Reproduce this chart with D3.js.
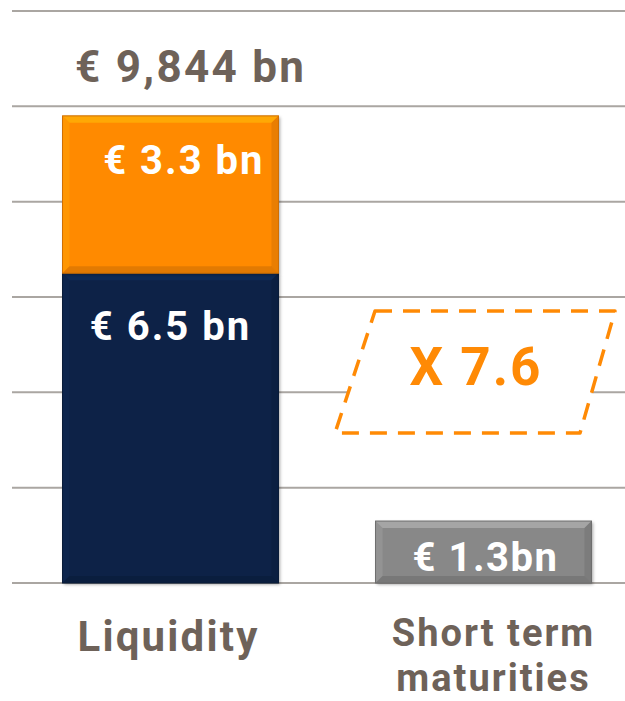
<!DOCTYPE html>
<html>
<head>
<meta charset="utf-8">
<script src="https://cdn.jsdelivr.net/npm/d3@7"></script>
<style>
  html, body { margin: 0; padding: 0; background: #ffffff; }
  svg { display: block; }
  text { font-family: Roboto, "Open Sans", sans-serif; font-weight: 700; }
</style>
</head>
<body>
<svg id="chart" width="625" height="701"></svg>
<script>
// Liquidity vs. short-term maturities (EUR bn)
const categories = ["Liquidity", "Short term maturities"];
const categoryLines = [["Liquidity"], ["Short term", "maturities"]];
const liquidityParts = [
  { key: "base", value: 6.5, label: "€ 6.5 bn", color: "#0b2347" },
  { key: "top",  value: 3.3, label: "€ 3.3 bn", color: "#ff8a05" }
];
const maturities = { value: 1.3, label: "€ 1.3bn", color: "#888888" };
const totalLabel = "€ 9,844 bn";
const ratioLabel = "X 7.6";
const gridTicks = [0, 2, 4, 6, 8, 10, 12];

const svg = d3.select("#chart");
const textColor = "#6e6259";

const y = d3.scaleLinear().domain([0, 12]).range([583, 11]);
const x = d3.scaleBand().domain(categories).range([14, 640]).padding(0);
const barW = x.bandwidth() * 0.69;
const barX = c => x(c) + (x.bandwidth() - barW) / 2;

// gridlines
svg.append("g").selectAll("line").data(gridTicks).join("line")
  .attr("x1", 12).attr("x2", 625)
  .attr("y1", d => y(d)).attr("y2", d => y(d))
  .attr("stroke", "#aaa6a2").attr("stroke-width", 2);

const defs = svg.append("defs");
const shadow = defs.append("filter").attr("id", "shadow")
  .attr("x", "-10%").attr("y", "-10%").attr("width", "130%").attr("height", "130%");
shadow.append("feDropShadow").attr("dx", 1.5).attr("dy", 1.5).attr("stdDeviation", 1.5)
  .attr("flood-color", "#000").attr("flood-opacity", 0.35);

// bevelled bar segment
function bevelBar(g, x0, y0, w, h, color) {
  const b = 7;
  const grp = g.append("g");
  grp.append("rect").attr("x", x0).attr("y", y0).attr("width", w).attr("height", h)
    .attr("fill", color).attr("filter", "url(#shadow)");
  const c = d3.color(color);
  const lighter = c.brighter(0.6).formatHex();
  const darker = c.darker(0.6).formatHex();
  const x1 = x0 + w, y1 = y0 + h;
  const poly = (pts, fill, op) => grp.append("polygon")
    .attr("points", pts.map(p => p.join(",")).join(" "))
    .attr("fill", fill).attr("opacity", op);
  poly([[x0, y0], [x1, y0], [x1 - b, y0 + b], [x0 + b, y0 + b]], lighter, 0.9);
  poly([[x0, y0], [x0 + b, y0 + b], [x0 + b, y1 - b], [x0, y1]], lighter, 0.35);
  poly([[x1, y0], [x1, y1], [x1 - b, y1 - b], [x1 - b, y0 + b]], darker, 0.45);
  poly([[x0, y1], [x0 + b, y1 - b], [x1 - b, y1 - b], [x1, y1]], darker, 0.6);
  grp.append("rect").attr("x", x0).attr("y", y0).attr("width", w).attr("height", h)
    .attr("fill", "none").attr("stroke", darker).attr("stroke-width", 1);
}

// stacked liquidity bar
let acc = 0;
const stacks = liquidityParts.map(p => {
  const s = { ...p, y0: acc, y1: acc + p.value };
  acc += p.value;
  return s;
});
const total = acc;
const lx = barX(categories[0]);
stacks.forEach(s => bevelBar(svg, lx, y(s.y1), barW, y(s.y0) - y(s.y1), s.color));

// maturities bar
const mx = barX(categories[1]);
bevelBar(svg, mx, y(maturities.value), barW, y(0) - y(maturities.value), maturities.color);

// labels inside bars
svg.append("text").text(stacks[1].label)
  .attr("x", lx + barW - 14).attr("y", y(stacks[1].y1) + 58)
  .attr("text-anchor", "end").attr("fill", "#fff").attr("font-size", 40)
  .attr("letter-spacing", 2.0);
svg.append("text").text(stacks[0].label)
  .attr("x", lx + barW / 2).attr("y", y(stacks[0].y1) + 67)
  .attr("text-anchor", "middle").attr("fill", "#fff").attr("font-size", 40)
  .attr("letter-spacing", 2.0);
svg.append("text").text(maturities.label)
  .attr("x", mx + barW / 2 + 2).attr("y", y(maturities.value) + 50)
  .attr("text-anchor", "middle").attr("fill", "#fff").attr("font-size", 40)
  .attr("letter-spacing", 1.5);

// total above stacked bar
svg.append("text").text(totalLabel)
  .attr("x", 75).attr("y", y(total) - 34)
  .attr("fill", textColor).attr("font-size", 44).attr("letter-spacing", 2.3);

// ratio annotation: dashed parallelogram
const pTop = 311, pBot = 433;
const para = [[375, pTop], [615, pTop], [580, pBot], [335, pBot]];
svg.append("polygon")
  .attr("points", para.map(p => p.join(",")).join(" "))
  .attr("fill", "#fff").attr("stroke", "#ff8a05").attr("stroke-width", 3.5)
  .attr("stroke-dasharray", "17,11").attr("stroke-linejoin", "round");
svg.append("text").text(ratioLabel)
  .attr("x", 476).attr("y", 385)
  .attr("text-anchor", "middle").attr("fill", "#ff8a05").attr("font-size", 53)
  .attr("letter-spacing", 2);

// category labels
const labelOffsets = [-2, 10];
const labelSizes = [42, 38];
const labelSpacing = [2.2, 2.0];
const labelBaselines = [[651], [646, 691]];
categories.forEach((c, i) => {
  const cx = x(c) + x.bandwidth() / 2 + labelOffsets[i];
  categoryLines[i].forEach((ln, j) => {
    svg.append("text")
      .attr("x", cx).attr("y", labelBaselines[i][j])
      .attr("text-anchor", "middle")
      .attr("fill", textColor).attr("font-size", labelSizes[i])
      .attr("letter-spacing", labelSpacing[i])
      .text(ln);
  });
});
</script>
</body>
</html>
